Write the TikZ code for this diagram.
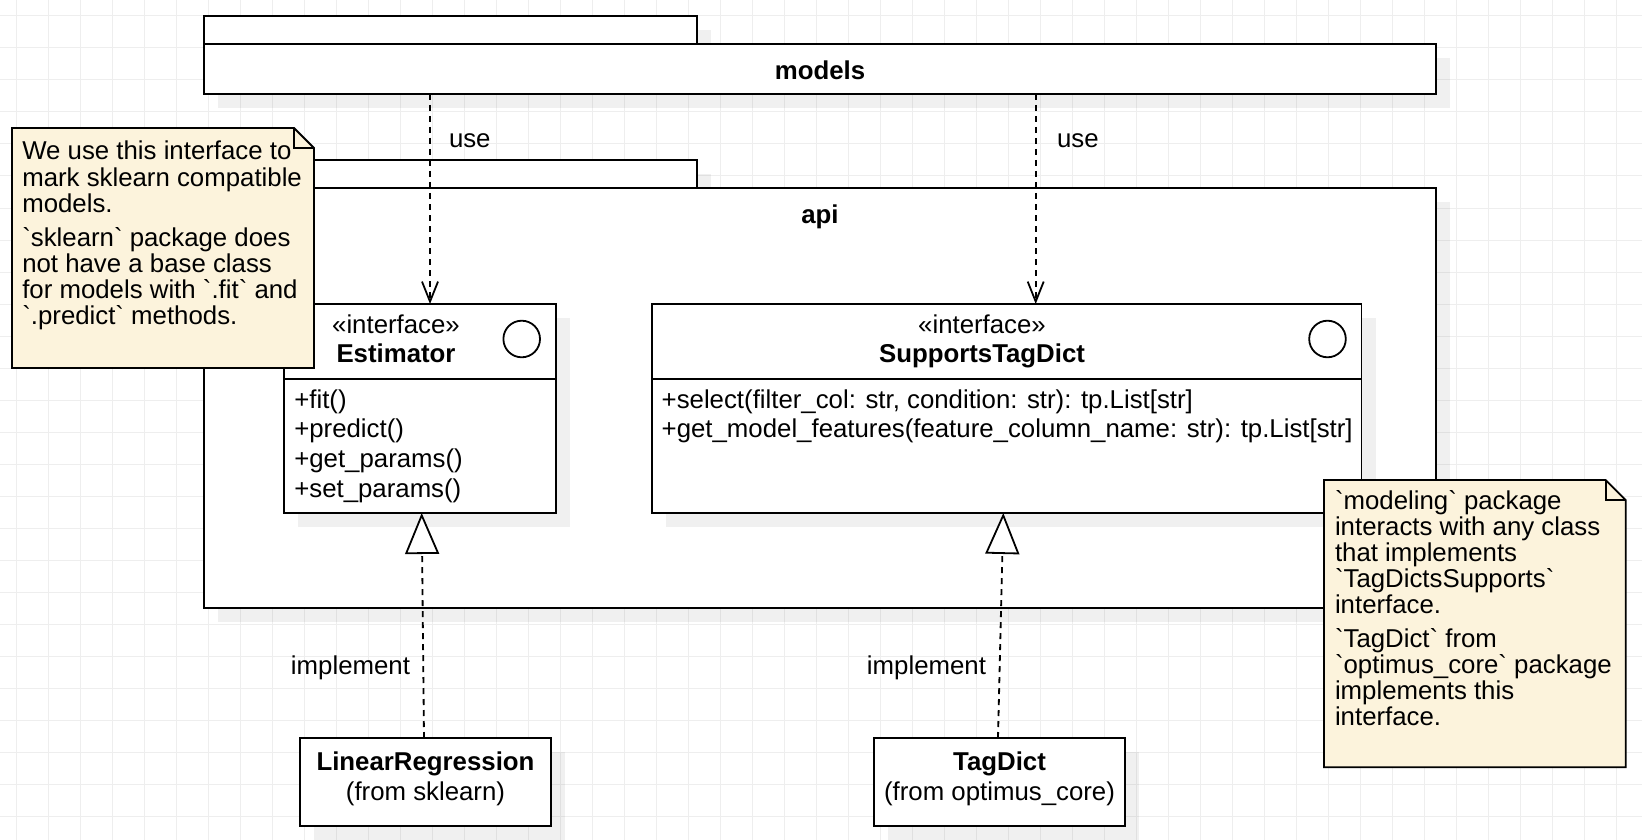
\documentclass[tikz,border=0pt]{standalone}
\usepackage{fontspec}
\setmainfont{Liberation Sans}
\usetikzlibrary{arrows.meta,shadows}
\definecolor{notefill}{RGB}{252,243,220}
\definecolor{gridc}{RGB}{238,238,238}
\newcommand\bq{\textasciigrave}
\begin{document}
\begin{tikzpicture}[x=1pt,y=-1pt,
  txt/.style={font=\fontsize{25.8pt}{26pt}\selectfont, inner sep=0pt, outer sep=0pt},
  btxt/.style={font=\fontsize{25.8pt}{26pt}\selectfont\bfseries, inner sep=0pt, outer sep=0pt},
  lw/.style={line width=1.8pt},
  box/.style={draw=black, line width=1.8pt, fill=white, rectangle, inner sep=0pt, outer sep=0pt,
    drop shadow={shadow xshift=14pt, shadow yshift=-14pt, fill=black, opacity=0.06}},
  circ/.style={draw=black, line width=1.8pt, circle, minimum size=36.6pt, inner sep=0pt},
  notebox/.style={draw=black, line width=1.8pt, fill=notefill},
  gridline/.style={draw=gridc, line width=1pt},
  dep/.style={line width=1.8pt, dash pattern=on 6pt off 5pt, -{Straight Barb[length=20pt,width=16pt]}},
  real/.style={line width=1.8pt, dash pattern=on 6pt off 5pt, -{Triangle[open,fill=white,length=41pt,width=34pt]}}
]
\useasboundingbox (0,0) rectangle (1642,840);
\fill[white] (0,0) rectangle (1642,840);
% grid
\foreach \x in {16,48,...,1640} \draw[gridline] (\x,0) -- (\x,840);
\foreach \y in {16,48,...,838} \draw[gridline] (0,\y) -- (1642,\y);

% packages
\node[box, minimum width=493pt, minimum height=28pt] (mtab) at (450.5,30) {};
\node[box, minimum width=1232pt, minimum height=50pt] (models) at (820,69) {};
\node[btxt, anchor=base] (mlabel) at (820,80) {models};
\node[box, minimum width=493pt, minimum height=28pt] (atab) at (450.5,174) {};
\node[box, minimum width=1232pt, minimum height=419.7pt] (api) at (820,397.85) {};
\node[btxt, anchor=base] (alabel) at (820,223) {api};

% Estimator
\node[box, minimum width=272pt, minimum height=209pt] (est) at (420,408.5) {};
\draw[lw] (est.west |- 0,379.3) -- (est.east |- 0,379.3);
\node[circ] (estc) at (521.7,339) {};
\node[txt, anchor=base] (estst) at (396,333.5) {«interface»};
\node[btxt, anchor=base] (estnm) at (396,362) {Estimator};
\node[txt, anchor=base west] (esta1) at (294.3,408.3) {+fit()};
\node[txt, anchor=base west] (esta2) at (294.3,437.9) {+predict()};
\node[txt, anchor=base west] (esta3) at (294.3,467.5) {+get\_params()};
\node[txt, anchor=base west] (esta4) at (294.3,497.1) {+set\_params()};

% SupportsTagDict
\node[box, minimum width=709.5pt, minimum height=209pt] (std) at (1006.75,408.5) {};
\draw[lw] (std.west |- 0,379.3) -- (std.east |- 0,379.3);
\node[circ] (stdc) at (1327.5,339) {};
\node[txt, anchor=base] (stdst) at (982,333.5) {«interface»};
\node[btxt, anchor=base] (stdnm) at (982,362) {SupportsTagDict};
\node[txt, anchor=base west] (stda1) at (661.7,408.3) {+select(filter\_col: str, condition: str): tp.List[str]};
\node[txt, anchor=base west] (stda2) at (661.7,437.9) {+get\_model\_features(feature\_column\_name: str): tp.List[str]};

% implementations
\node[box, minimum width=251pt, minimum height=88pt] (lr) at (425.5,782) {};
\node[btxt, anchor=base] (lrnm) at (425.5,770.5) {LinearRegression};
\node[txt, anchor=base] (lrfr) at (425.5,800) {(from sklearn)};
\node[box, minimum width=251pt, minimum height=88pt] (td) at (999.5,782) {};
\node[btxt, anchor=base] (tdnm) at (999.5,770.5) {TagDict};
\node[txt, anchor=base] (tdfr) at (999.5,800) {(from optimus\_core)};

% note 1
\draw[notebox] (12,128) -- (294,128) -- (314,148) -- (314,368) -- (12,368) -- cycle;
\draw[lw] (294,128) -- (294,148) -- (314,148);
\node[txt, anchor=base west] (n1a) at (22.3,160) {We use this interface to};
\node[txt, anchor=base west] (n1b) at (22.3,186) {mark sklearn compatible};
\node[txt, anchor=base west] (n1c) at (22.3,212) {models.};
\node[txt, anchor=base west] (n1d) at (22.3,246) {\bq sklearn\bq{} package does};
\node[txt, anchor=base west] (n1e) at (22.3,272) {not have a base class};
\node[txt, anchor=base west] (n1f) at (22.3,298) {for models with \bq.fit\bq{} and};
\node[txt, anchor=base west] (n1g) at (22.3,324) {\bq.predict\bq{} methods.};

% note 2
\draw[notebox] (1324,480) -- (1605.7,480) -- (1625.7,500) -- (1625.7,767.3) -- (1324,767.3) -- cycle;
\draw[lw] (1605.7,480) -- (1605.7,500) -- (1625.7,500);
\node[txt, anchor=base west] (n2a) at (1335,509.5) {\bq modeling\bq{} package};
\node[txt, anchor=base west] (n2b) at (1335,535.5) {interacts with any class};
\node[txt, anchor=base west] (n2c) at (1335,561.5) {that implements};
\node[txt, anchor=base west] (n2d) at (1335,587.5) {\bq TagDictsSupports\bq};
\node[txt, anchor=base west] (n2e) at (1335,613.5) {interface.};
\node[txt, anchor=base west] (n2f) at (1335,647) {\bq TagDict\bq{} from};
\node[txt, anchor=base west] (n2g) at (1335,673) {\bq optimus\_core\bq{} package};
\node[txt, anchor=base west] (n2h) at (1335,699) {implements this};
\node[txt, anchor=base west] (n2i) at (1335,725) {interface.};

% connectors
\coordinate (u1) at (430,0);
\coordinate (u2) at (1035.7,0);
\draw[dep] (models.south -| u1) -- (est.north -| u1);
\draw[dep] (models.south -| u2) -- (std.north -| u2);
\node[txt, anchor=base west] (use1) at (449,148) {use};
\node[txt, anchor=base west] (use2) at (1057,148) {use};

\coordinate (i1s) at (424,0);
\coordinate (i1t) at (421.7,0);
\coordinate (i2s) at (998,0);
\coordinate (i2t) at (1003.3,0);
\draw[real] (lr.north -| i1s) -- (est.south -| i1t);
\draw[real] (td.north -| i2s) -- (std.south -| i2t);
\node[txt, anchor=base east] (imp1) at (410,674) {implement};
\node[txt, anchor=base east] (imp2) at (986,674) {implement};
\end{tikzpicture}
\end{document}
